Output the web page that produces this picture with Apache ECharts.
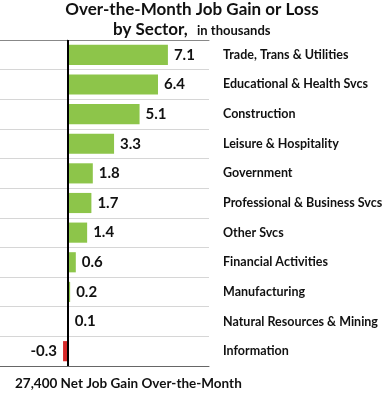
<!DOCTYPE html>
<html><head><meta charset="utf-8">
<script src="https://cdn.jsdelivr.net/npm/echarts@6/dist/echarts.min.js"></script>
<style>html,body{margin:0;padding:0;background:#fff}#c{width:390px;height:401px}</style>
</head><body><div id="c"></div>
<script>
const categories = ["Trade, Trans & Utilities","Educational & Health Svcs","Construction","Leisure & Hospitality","Government","Professional & Business Svcs","Other Svcs","Financial Activities","Manufacturing","Natural Resources & Mining","Information"];
const values = [7.1, 6.4, 5.1, 3.3, 1.8, 1.7, 1.4, 0.6, 0.2, 0.1, -0.3];
const titleLine1 = "Over-the-Month Job Gain or Loss";
const titleLine2a = "by Sector,";
const titleLine2b = "in thousands";
const footer = "27,400 Net Job Gain Over-the-Month";

const FONT = "Lato";
const chart = echarts.init(document.getElementById('c'), null, {renderer:'canvas'});
chart.setOption({
  animation:false,
  backgroundColor:'#fff',
  graphic:[
    {type:'text',x:192,y:10,style:{text:titleLine1,font:'bold 17px '+FONT,fill:'#111',textAlign:'center',textVerticalAlign:'middle'}},
    {type:'text',x:113,y:30,style:{text:titleLine2a,font:'bold 17px '+FONT,fill:'#111',textAlign:'left',textVerticalAlign:'middle'}},
    {type:'text',x:197,y:31,style:{text:titleLine2b,font:'bold 13px '+FONT,fill:'#111',textAlign:'left',textVerticalAlign:'middle'}},
    {type:'text',x:15,y:384,style:{text:footer,font:'bold 13.5px '+FONT,fill:'#111',textAlign:'left',textVerticalAlign:'middle'}}
  ],
  grid:{left:0,right:181,top:40,bottom:35,containLabel:false},
  xAxis:[
    {type:'value',min:-4.75,max:10,position:'top',axisLine:{show:true,lineStyle:{color:'#888',width:1}},axisTick:{show:false},axisLabel:{show:false},splitLine:{show:false}},
    {type:'value',min:-4.75,max:10,position:'bottom',axisLine:{show:true,lineStyle:{color:'#666',width:1}},axisTick:{show:false},axisLabel:{show:false},splitLine:{show:false}}
  ],
  yAxis:{type:'category',data:categories,inverse:true,position:'right',
    axisLine:{show:true,lineStyle:{color:'#888',width:1}},axisTick:{show:false},
    axisLabel:{align:'left',margin:14,fontFamily:FONT,fontWeight:'bold',fontSize:12.5,color:'#111'},
    splitLine:{show:true,lineStyle:{color:'#d6d6d6',width:1}}},
  series:[{
    type:'bar',xAxisIndex:0,barWidth:'68%',
    data:values.map(v=>({value:v,itemStyle:{color:v<0?'#d62a2a':'#8dc54a'},
      label:{position:v<0?'left':'right'}})),
    label:{show:true,distance:6,fontFamily:FONT,fontWeight:'bold',fontSize:15,color:'#111',formatter:p=>p.value.toFixed(1)},
    markLine:{silent:true,symbol:'none',label:{show:false},lineStyle:{color:'#000',width:2,type:'solid'},data:[{xAxis:0}]}
  }]
});
</script></body></html>
